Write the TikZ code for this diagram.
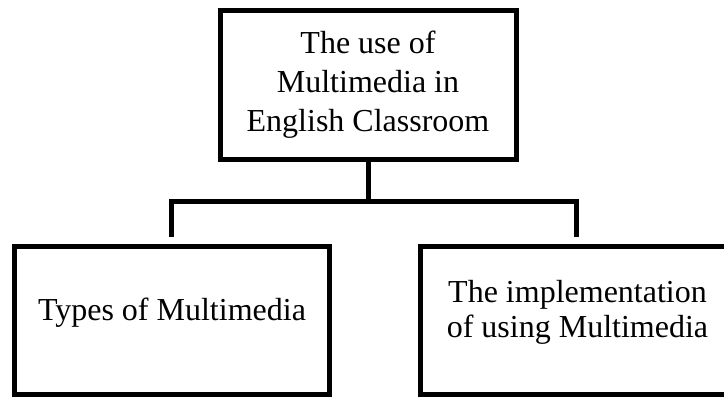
\documentclass[tikz,border=0pt]{standalone}
\usepackage{fontspec}
\setmainfont{Liberation Serif}
\tikzset{%
  base/.style = {rectangle, draw=black, line width=2.5pt,
                 text centered, align=center,
                 font=\fontsize{16}{19.5}\selectfont},
  box0/.style = {base, minimum width=148pt, minimum height=74.5pt},
  box1/.style = {base, minimum width=157.5pt, minimum height=74pt, text depth=12pt,
                 font=\fontsize{16}{17.5}\selectfont},
  link/.style = {draw=black, line width=2.5pt, line join=miter},
}
\begin{document}
\begin{tikzpicture}[x=0.5pt, y=-0.5pt]
  \useasboundingbox (0,0) rectangle (724,399);
  \clip (0,0) rectangle (724,399);

  \node (onUse)   [box0] at (368,85)    {The use of\\ Multimedia in\\ English Classroom};
  \node (onTypes) [box1] at (172,321)   {Types of Multimedia};
  \node (onImpl)  [box1] at (577.5,321) {The implementation\\ of using Multimedia};

  \coordinate (bar)   at (368,202);
  \coordinate (left)  at (171,237);
  \coordinate (right) at (576,237);

  \draw[link] (onUse) -- (bar);
  \draw[link] (left) |- (bar) -| (right);
\end{tikzpicture}
\end{document}
